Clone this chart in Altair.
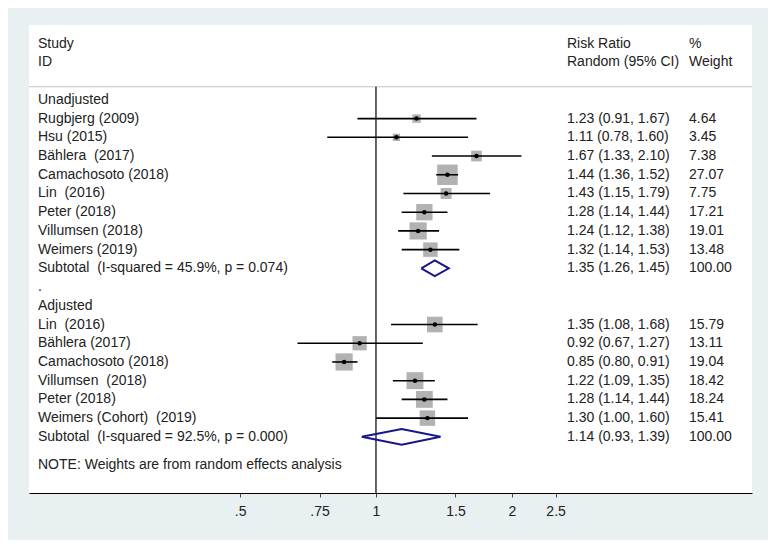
import altair as alt
import pandas as pd

NB = "\u00a0"

# ---- data -------------------------------------------------------------
unadj_studies = ["Rugbjerg (2009)", "Hsu (2015)", "Bählera" + NB + " (2017)", "Camachosoto (2018)",
                 "Lin" + NB + " (2016)", "Peter (2018)", "Villumsen (2018)", "Weimers (2019)"]
unadj_rr = [1.23, 1.11, 1.67, 1.44, 1.43, 1.28, 1.24, 1.32]
unadj_lo = [0.91, 0.78, 1.33, 1.36, 1.15, 1.14, 1.12, 1.14]
unadj_hi = [1.67, 1.60, 2.10, 1.52, 1.79, 1.44, 1.38, 1.53]
unadj_w = [4.64, 3.45, 7.38, 27.07, 7.75, 17.21, 19.01, 13.48]

adj_studies = ["Lin" + NB + " (2016)", "Bählera (2017)", "Camachosoto (2018)",
               "Villumsen" + NB + " (2018)", "Peter (2018)", "Weimers (Cohort)" + NB + " (2019)"]
adj_rr = [1.35, 0.92, 0.85, 1.22, 1.28, 1.30]
adj_lo = [1.08, 0.67, 0.80, 1.09, 1.14, 1.00]
adj_hi = [1.68, 1.27, 0.91, 1.35, 1.44, 1.60]
adj_w = [15.79, 13.11, 19.04, 18.42, 18.24, 15.41]

sub_labels = ["Subtotal" + NB + " (I-squared = 45.9%, p = 0.074)",
              "Subtotal" + NB + " (I-squared = 92.5%, p = 0.000)"]
sub_rr = [1.35, 1.14]
sub_lo = [1.26, 0.93]
sub_hi = [1.45, 1.39]
sub_w = [100.00, 100.00]

group_labels = ["Unadjusted", "Adjusted"]
note_text = "NOTE: Weights are from random effects analysis"

tick_values = [0.5, 0.75, 1, 1.5, 2, 2.5]
tick_labels = [".5", ".75", "1", "1.5", "2", "2.5"]

# ---- tables -----------------------------------------------------------
unadj_rows = list(range(1, 1 + len(unadj_studies)))
sub_rows = [1 + len(unadj_studies), 0]
adj_start = sub_rows[0] + 3
adj_rows = list(range(adj_start, adj_start + len(adj_studies)))
sub_rows[1] = adj_start + len(adj_studies)
group_rows = [0, adj_start - 1]
note_row = sub_rows[1] + 1.5

studies = pd.DataFrame({
    "label": unadj_studies + adj_studies,
    "rr": unadj_rr + adj_rr,
    "lo": unadj_lo + adj_lo,
    "hi": unadj_hi + adj_hi,
    "w": unadj_w + adj_w,
    "row": unadj_rows + adj_rows,
})
studies["ci"] = [f"{r:.2f} ({l:.2f}, {h:.2f})" for r, l, h in zip(studies.rr, studies.lo, studies.hi)]
studies["wt"] = [f"{w:.2f}" for w in studies.w]

subs = pd.DataFrame({"label": sub_labels, "rr": sub_rr, "lo": sub_lo, "hi": sub_hi,
                     "w": sub_w, "row": sub_rows})
subs["ci"] = [f"{r:.2f} ({l:.2f}, {h:.2f})" for r, l, h in zip(subs.rr, subs.lo, subs.hi)]
subs["wt"] = [f"{w:.2f}" for w in subs.w]

half = 0.42
dia = []
for g, (r, l, h, row) in enumerate(zip(sub_rr, sub_lo, sub_hi, sub_rows)):
    pts = [(l, row), (r, row - half), (h, row), (r, row + half), (l, row)]
    for i, (x, y) in enumerate(pts):
        dia.append({"g": g, "i": i, "x": x, "y": y})
dia = pd.DataFrame(dia)

left_text = pd.DataFrame({
    "label": group_labels + [".", note_text],
    "row": group_rows + [adj_start - 2, note_row],
})
headers = pd.DataFrame({
    "label": ["Study", "ID", "Risk Ratio", "Random (95% CI)", "%", "Weight"],
    "row": [-3, -2, -3, -2, -3, -2],
    "col": ["a", "a", "b", "b", "c", "c"],
})

# ---- scales -----------------------------------------------------------
W, H = 723, 468
FONT = "Liberation Sans"
FS = 14
xs = alt.Scale(type="log", domain=[0.1703, 6.81], nice=False)
ys = alt.Scale(domain=[-4, 21], reverse=True, nice=False, zero=False)
label_expr = " : ".join(
    [f"datum.value == {v} ? '{t}'" for v, t in zip(tick_values, tick_labels)]) + " : ''"

X = lambda f: alt.X(f, type="quantitative", scale=xs, title=None,
                    axis=alt.Axis(values=tick_values, labelExpr=label_expr, grid=False,
                                  domainColor="black", domainWidth=1.2, tickColor="#444",
                                  tickSize=4, labelPadding=7, labelFontSize=FS,
                                  labelColor="#222", labelFont=FONT))
Y = lambda f: alt.Y(f, type="quantitative", scale=ys, axis=None)

sep = alt.Chart(pd.DataFrame({"r": [-0.7]})).mark_rule(color="#c4c4c4", strokeWidth=1).encode(
    y=Y("r"), x=alt.value(0), x2=alt.value(W))
vline = alt.Chart(pd.DataFrame({"x": [1.0], "y1": [-0.7], "y2": [21]})).mark_rule(
    color="black", strokeWidth=1.2).encode(x=X("x"), y=Y("y1"), y2=alt.Y2("y2"))

sq = alt.Chart(studies).mark_square(color="#b2b2b2", opacity=1).encode(
    x=X("rr"), y=Y("row"),
    size=alt.Size("w:Q", scale=alt.Scale(domain=[0, 27.07], range=[0, 420]), legend=None))
ci = alt.Chart(studies).mark_rule(color="black", strokeWidth=1.6).encode(
    x=X("lo"), x2="hi", y=Y("row"))
dot = alt.Chart(studies).mark_circle(color="black", size=20, opacity=1).encode(
    x=X("rr"), y=Y("row"))
diamond = alt.Chart(dia).mark_line(color="#16168a", strokeWidth=2).encode(
    x=X("x"), y=Y("y"), detail="g:N", order="i:Q")

txt = dict(font=FONT, fontSize=FS, color="#222", baseline="middle", align="left")
lab1 = alt.Chart(studies).mark_text(**txt).encode(text="label", y=Y("row"), x=alt.value(9))
lab2 = alt.Chart(subs).mark_text(**txt).encode(text="label", y=Y("row"), x=alt.value(9))
lab3 = alt.Chart(left_text).mark_text(**txt).encode(text="label", y=Y("row"), x=alt.value(9))
ci_t1 = alt.Chart(studies).mark_text(**txt).encode(text="ci", y=Y("row"), x=alt.value(538))
ci_t2 = alt.Chart(subs).mark_text(**txt).encode(text="ci", y=Y("row"), x=alt.value(538))
w_t1 = alt.Chart(studies).mark_text(**txt).encode(text="wt", y=Y("row"), x=alt.value(660))
w_t2 = alt.Chart(subs).mark_text(**txt).encode(text="wt", y=Y("row"), x=alt.value(660))
hA = alt.Chart(headers[headers.col == "a"]).mark_text(**txt).encode(text="label", y=Y("row"), x=alt.value(9))
hB = alt.Chart(headers[headers.col == "b"]).mark_text(**txt).encode(text="label", y=Y("row"), x=alt.value(538))
hC = alt.Chart(headers[headers.col == "c"]).mark_text(**txt).encode(text="label", y=Y("row"), x=alt.value(660))

chart = alt.layer(
    sep, vline, sq, ci, dot, diamond,
    lab1, lab2, lab3, ci_t1, ci_t2, w_t1, w_t2, hA, hB, hC,
).properties(
    width=W, height=H,
    background="#e9f0f2",
    padding={"left": 21, "top": 17, "right": 16, "bottom": 47},
    autosize=alt.AutoSizeParams(type="none"),
).configure_view(fill="white", stroke=None)

chart.save("out.html", embed_options={"renderer": "svg", "actions": False})
